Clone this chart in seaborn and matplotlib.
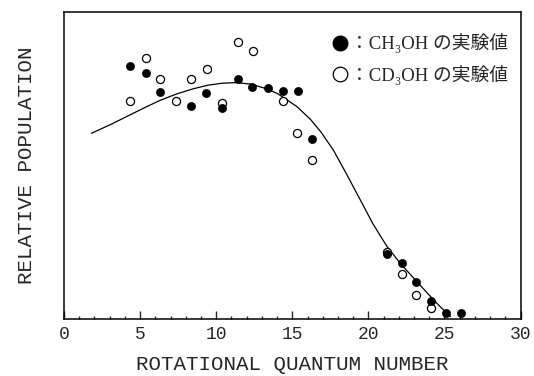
import numpy as np
import pandas as pd
import matplotlib
matplotlib.use('Agg')
import matplotlib.pyplot as plt
from matplotlib.lines import Line2D
import seaborn as sns

# CH3OH measured points (filled)
ch3oh_j = [4.35, 5.4, 6.3, 8.35, 9.35, 10.35, 11.4, 12.35, 13.4, 14.4, 15.4, 16.3,
           21.2, 22.2, 23.1, 24.1, 25.1, 26.1]
ch3oh_pop = [82.4, 80.2, 73.9, 69.5, 73.7, 68.8, 78.3, 75.5, 75.3, 74.4, 74.4, 58.6,
             21.2, 18.3, 12.1, 6.0, 2.1, 2.1]

# CD3OH measured points (open)
cd3oh_j = [4.35, 5.4, 6.3, 7.35, 8.35, 9.4, 10.35, 11.4, 12.4, 14.4, 15.3, 16.3,
           21.2, 22.2, 23.1, 24.1]
cd3oh_pop = [71.1, 85.0, 78.2, 71.0, 78.3, 81.4, 70.3, 90.3, 87.4, 71.0, 60.5, 51.7,
             21.9, 14.6, 7.7, 3.5]

# calculated curve
curve_j = [1.8, 3.0, 4.1, 5.2, 6.3, 7.4, 8.5, 9.5, 10.4, 11.3, 12.3, 13.3, 14.0, 14.5,
           15.3, 16.2, 16.9, 17.7, 18.6, 19.5, 20.3, 21.2, 22.1, 23.0, 23.9, 24.7, 25.4]
curve_pop = [60.5, 63.2, 65.9, 68.6, 71.2, 73.3, 75.0, 76.2, 76.8, 77.0, 76.5, 75.0, 73.5, 71.9,
             69.2, 65.0, 60.8, 55.0, 46.9, 38.5, 31.0, 23.8, 18.1, 13.2, 8.3, 4.1, 0.8]

xticks = [0, 5, 10, 15, 20, 25, 30]

sns.set_style('white')
plt.rcParams['font.family'] = ['Liberation Mono', 'DejaVu Sans']

fig = plt.figure(figsize=(5.34, 3.76), dpi=100)
ax = fig.add_axes([0.1199, 0.1516, 0.8549, 0.8165])

df_open = pd.DataFrame({'J': cd3oh_j, 'pop': cd3oh_pop})
df_fill = pd.DataFrame({'J': ch3oh_j, 'pop': ch3oh_pop})
df_curve = pd.DataFrame({'J': curve_j, 'pop': curve_pop})

sns.lineplot(data=df_curve, x='J', y='pop', color='black', linewidth=0.9, ax=ax, zorder=2)
sns.scatterplot(data=df_open, x='J', y='pop', marker='o', s=34, facecolor='white',
                edgecolor='black', linewidth=0.9, ax=ax, zorder=3)
sns.scatterplot(data=df_fill, x='J', y='pop', marker='o', s=34, color='black',
                edgecolor='black', linewidth=0.5, ax=ax, zorder=4)

ax.set_xlim(0, 30)
ax.set_ylim(0, 100)
ax.set_xticks(xticks)
ax.set_xticks(np.arange(0, 31, 1), minor=True)
ax.set_yticks([])
ax.tick_params(axis='x', which='major', direction='in', length=5.5, width=1.0,
               pad=5, labelsize=13, top=False, bottom=True)
ax.tick_params(axis='x', which='minor', direction='in', length=2.5, width=1.0,
               top=False, bottom=True)
for sp in ax.spines.values():
    sp.set_linewidth(1.1)
    sp.set_color('black')

ax.set_xlabel('ROTATIONAL QUANTUM NUMBER', fontsize=15, labelpad=9)
ax.set_ylabel('RELATIVE POPULATION', fontsize=15, labelpad=20)

handles = [
    Line2D([], [], marker='o', linestyle='none', markersize=10.5,
           markerfacecolor='black', markeredgecolor='black'),
    Line2D([], [], marker='o', linestyle='none', markersize=10.5,
           markerfacecolor='white', markeredgecolor='black', markeredgewidth=0.9),
]
labels = ['：CH₃OH の実験値', '：CD₃OH の実験値']
ax.legend(handles, labels, loc='upper left', bbox_to_anchor=(0.585, 0.93),
          frameon=False, handlelength=0.9, handletextpad=0.1, borderpad=0,
          borderaxespad=0, labelspacing=0.6,
          prop={'family': ['Liberation Serif', 'Noto Sans CJK JP', 'DejaVu Serif'],
                'size': 13.5})

fig.savefig('out.png', dpi=100)
